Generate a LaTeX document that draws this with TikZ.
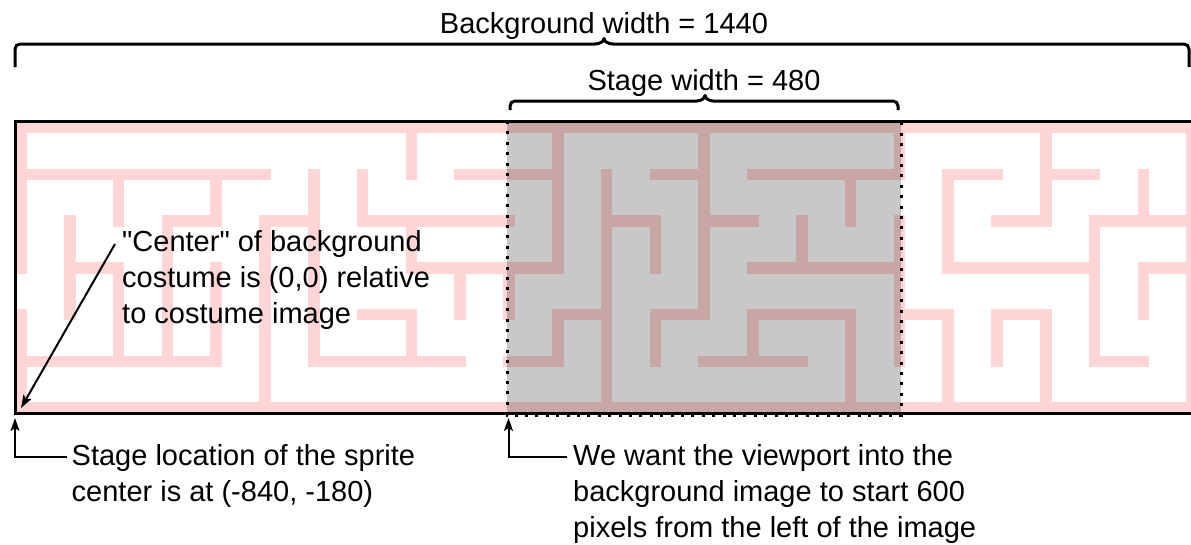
\documentclass[tikz,border=0pt]{standalone}
\usepackage{fontspec}
% plain family: keeps straight quotes as typed
\newfontfamily\labelfont{Liberation Sans}
\usetikzlibrary{arrows.meta}

\definecolor{mazepink}{RGB}{255,213,213}
\definecolor{mazeshade}{RGB}{200,166,166}
\definecolor{stagegray}{RGB}{200,200,200}

% Maze walls on a 24 x 6 grid of wall centres
\newcommand\mazewalls[1]{%
  \draw[#1]
    % outer walls
    (0,0)--(24,0) (0,6)--(24,6) (0,0)--(0,3) (0,4)--(0,6) (24,0)--(24,6)
    % left part
    (0,1)--(5,1) (2,1)--(2,2) (2,3)--(2,5) (1,2)--(1,4) (1,3)--(2,3)
    (3,2)--(3,5) (3,2)--(4,2) (4,1)--(4,2) (4,3)--(4,5) (0,5)--(4,5)
    (5,2)--(5,6) (5,2)--(6,2) (6,1)--(6,5) (7,1)--(7,2) (7,2)--(10,2)
    (8,0)--(8,1) (8,2)--(8,3) (8,3)--(11,3) (9,3)--(9,4) (7,4)--(8,4)
    (8,4)--(8,5) (6,5)--(9,5) (9,1)--(11,1) (10,3)--(10,4)
    % middle part
    (11,0)--(11,3) (12,1)--(12,6) (12,2)--(13,2) (13,2)--(13,3)
    (13,1)--(14,1) (14,0)--(14,4) (11,4)--(12,4) (11,4)--(11,5)
    (10,5)--(11,5) (13,4)--(14,4) (13,4)--(13,5) (14,5)--(16,5)
    (14,2)--(15,2) (15,1)--(18,1) (17,1)--(17,2) (16,2)--(16,3)
    (15,3)--(18,3) (18,0)--(18,1) (18,2)--(18,5) (15,4)--(17,4)
    (17,4)--(17,6) (15,4)--(15,5)
    % right part
    (21,0)--(21,2) (19,1)--(20,1) (19,1)--(19,3) (19,3)--(22,3)
    (21,1)--(22,1) (20,2)--(21,2) (23,1)--(23,2) (22,2)--(24,2)
    (22,2)--(22,5) (22,5)--(23,5) (23,3)--(24,3) (23,3)--(23,4)
    (18,4)--(19,4) (19,4)--(19,6) (20,4)--(21,4) (20,4)--(20,5)
    (21,4)--(21,6);%
}

\tikzset{
  wall/.style={line width=11.5pt, line cap=rect},
  brace/.style={line width=3pt, rounded corners=5pt},
  label/.style={font=\labelfont\fontsize{29}{36}\selectfont, inner sep=0pt},
  note/.style={label, align=left, anchor=north west},
  pointer/.style={line width=2pt, -{Stealth[length=13pt,width=9pt,inset=3pt]}},
  stageframe/.style={line width=3pt, dash pattern=on 3pt off 7.4pt},
}

\begin{document}
\begin{tikzpicture}[x=1pt, y=-1pt]
  \useasboundingbox (0,0) rectangle (1191,544);
  \fill[white] (0,0) rectangle (1191,544);

  % background costume: maze
  \begin{scope}[shift={(21pt,-127.5pt)}, x=48.8pt, y=-46.75pt]
    \mazewalls{wall, mazepink}
  \end{scope}

  % stage viewport
  \fill[stagegray] (507,121) rectangle (901,414);
  \begin{scope}
    \clip (507,121) rectangle (901,414);
    \begin{scope}[shift={(21pt,-127.5pt)}, x=48.8pt, y=-46.75pt]
      \mazewalls{wall, mazeshade}
    \end{scope}
  \end{scope}

  % costume outline and stage outline
  \draw[line width=3pt] (15.5,121.5) rectangle (1197,413.5);
  \draw[stageframe] (507,121) rectangle (901,415);

  % width braces
  \draw[brace] (15,67) -- (15,44) -- (590,44)
    .. controls (600,44) and (603,41) .. (604,36)
    .. controls (605,41) and (608,44) .. (618,44)
    -- (1189,44) -- (1189,67);
  \node[label, anchor=base] (bgwidth) at (604,33) {Background width = 1440};

  \draw[brace] (510,110) -- (510,101) -- (692,101)
    .. controls (701,101) and (704,98) .. (705,93)
    .. controls (706,98) and (709,101) .. (718,101)
    -- (898,101) -- (898,110);
  \node[label, anchor=base] (stagewidth) at (704,90) {Stage width = 480};

  % annotations
  \node[note] (centertext) at (122,230.5)
    {"Center" of background\\costume is (0,0) relative\\to costume image};
  \coordinate (centertail) at (115,244);
  \coordinate (costumeorigin) at (21,408);
  \draw[pointer] (centertail) -- (costumeorigin);

  \node[note] (spritetext) at (71.5,444)
    {Stage location of the sprite\\center is at (-840, -180)};
  \coordinate (spritetail) at (67,457);
  \coordinate (spritemark) at (15,418);
  \draw[pointer] (spritetail) -| (spritemark);

  \node[note] (viewtext) at (573,444)
    {We want the viewport into the\\background image to start 600\\pixels from the left of the image};
  \coordinate (viewtail) at (567,457);
  \coordinate (viewmark) at (508.5,418);
  \draw[pointer] (viewtail) -| (viewmark);
\end{tikzpicture}
\end{document}
